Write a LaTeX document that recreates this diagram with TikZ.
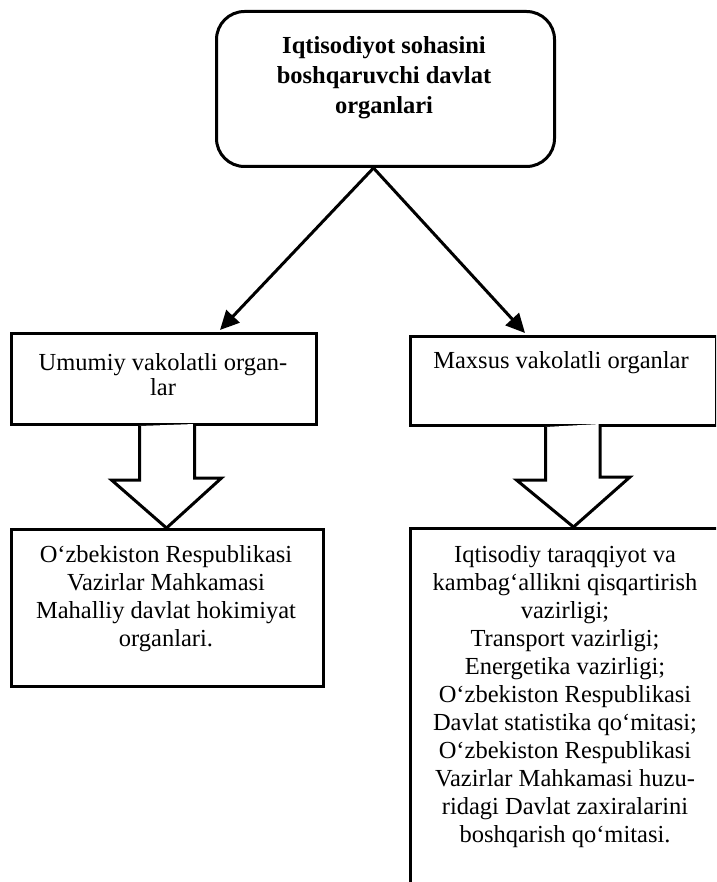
\documentclass[tikz,border=0pt]{standalone}
\usepackage{fontspec}
\setmainfont{Liberation Serif}
\usetikzlibrary{arrows.meta,calc}
\begin{document}
\begin{tikzpicture}[x=1pt,y=-1pt,
  box/.style={draw,line width=3pt,anchor=north west,inner sep=0pt},
  txt/.style={align=center,inner sep=0pt,font=\fontsize{24.5}{28}\selectfont},
  thinarr/.style={line width=3pt,-{Triangle[length=19pt,width=18pt]}},
  blk/.style={draw,line width=3pt,fill=white,line join=miter}]
\useasboundingbox (0,0) rectangle (716,882);
\clip (0,0) rectangle (716,882);
% top box
\node[box,rounded corners=28pt,minimum width=338pt,minimum height=155pt] (top) at (215,10) {};
\node[txt,font=\fontsize{24.5}{30}\selectfont\bfseries] (toptxt) at (384,78) {Iqtisodiyot sohasini\\boshqaruvchi davlat\\organlari};
% second row
\node[box,minimum width=305pt,minimum height=91pt] (umum) at (10,332) {};
\node[txt,font=\fontsize{24.5}{25}\selectfont] (umumtxt) at (163,375) {Umumiy vakolatli organ-\\lar};
\node[box,minimum width=306pt,minimum height=89pt] (maxs) at (409,335) {};
\node[txt] (maxstxt) at (561,363) {Maxsus vakolatli organlar};
% third row
\node[box,minimum width=312pt,minimum height=157pt] (umb) at (10,528) {};
\node[txt] (umbtxt) at (166,599) {O‘zbekiston Respublikasi\\Vazirlar Mahkamasi\\Mahalliy davlat hokimiyat\\organlari.};
\node[box,minimum width=313pt,minimum height=400pt] (mxb) at (409,527) {};
\node[txt] (mxbtxt) at (565,697) {Iqtisodiy taraqqiyot va\\kambag‘allikni qisqartirish\\vazirligi;\\Transport vazirligi;\\Energetika vazirligi;\\O‘zbekiston Respublikasi\\Davlat statistika qo‘mitasi;\\O‘zbekiston Respublikasi\\Vazirlar Mahkamasi huzu-\\ridagi Davlat zaxiralarini\\boshqarish qo‘mitasi.};
% thin arrows
\coordinate (src) at ($(top.south)+(-12,0)$);
\coordinate (lt) at (220,330);
\coordinate (rt) at (525,333);
\draw[thinarr] (src) -- (lt);
\draw[thinarr] (src) -- (rt);
% block arrows
\draw[blk] ($(umum.south)+(-24.5,0)$) -- ++(0,54) -- ++(-28,0) -- ($(umb.north)+(-1,0)$) -- ++(55,-50) -- ++(-27,0) -- ++(0,-54);
\draw[blk] ($(maxs.south)+(-18,0)$) -- ++(0,53) -- ++(-29,0) -- ($(mxb.north)+(6.5,0)$) -- ++(56.5,-50) -- ++(-30,0) -- ++(0,-53);
\end{tikzpicture}
\end{document}
